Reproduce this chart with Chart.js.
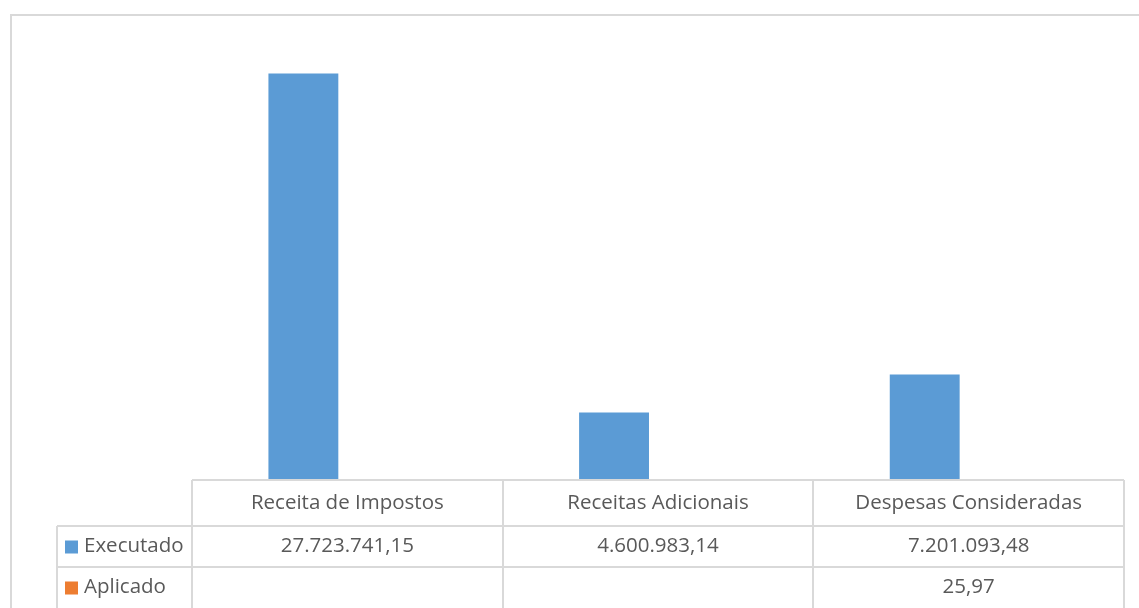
<!DOCTYPE html>
<html lang="pt-BR">
<head>
<meta charset="utf-8">
<title>Executado x Aplicado</title>
<script src="https://cdn.jsdelivr.net/npm/chart.js@4.4.1/dist/chart.umd.min.js"></script>
<style>
    html, body { margin: 0; padding: 0; background: #fff; }
    #wrap { width: 1139px; height: 608px; position: relative; }
</style>
</head>
<body>
<div id="wrap"><canvas id="grafico"></canvas></div>
<script>
// Dados do gráfico
const categorias = ['Receita de Impostos', 'Receitas Adicionais', 'Despesas Consideradas'];
const executado = [27723741.15, 4600983.14, 7201093.48];
const aplicado = [null, null, 25.97];
const eixoMax = 30000000;

const COR_EXEC = '#5B9BD5';
const COR_APLIC = '#ED7D31';
const COR_LINHA = '#D9D9D9';
const COR_TEXTO = '#595959';
const FONTE = "20.5px 'Open Sans', sans-serif";

// formata no padrão brasileiro: 27.723.741,15
function formataBR(v) {
    if (v === null || v === undefined) return '';
    const partes = v.toFixed(2).split('.');
    const inteiro = partes[0].replace(/\B(?=(\d{3})+(?!\d))/g, '.');
    return inteiro + ',' + partes[1];
}

// Moldura externa + tabela de dados abaixo do eixo
const tabelaDados = {
    id: 'tabelaDados',
    beforeDraw(chart) {
        const ctx = chart.ctx;
        ctx.save();
        ctx.strokeStyle = COR_LINHA;
        ctx.lineWidth = 2;
        ctx.beginPath();
        ctx.moveTo(11, chart.height);
        ctx.lineTo(11, 15);
        ctx.lineTo(chart.width, 15);
        ctx.stroke();
        ctx.restore();
    },
    afterDraw(chart) {
        const ctx = chart.ctx;
        const area = chart.chartArea;
        const x = chart.scales.x;
        const larg = (area.right - area.left) / categorias.length;
        const yTopo = area.bottom;
        const linhas = [yTopo, yTopo + 46, yTopo + 87, chart.height];
        const xLegenda = 57;

        ctx.save();
        ctx.strokeStyle = COR_LINHA;
        ctx.lineWidth = 2;
        ctx.beginPath();
        // horizontais
        ctx.moveTo(area.left, linhas[0]); ctx.lineTo(area.right, linhas[0]);
        ctx.moveTo(xLegenda, linhas[1]); ctx.lineTo(area.right, linhas[1]);
        ctx.moveTo(xLegenda, linhas[2]); ctx.lineTo(area.right, linhas[2]);
        // verticais
        ctx.moveTo(xLegenda, linhas[1]); ctx.lineTo(xLegenda, linhas[3]);
        for (let i = 0; i <= categorias.length; i++) {
            const xi = Math.round(area.left + i * larg);
            ctx.moveTo(xi, linhas[0]); ctx.lineTo(xi, linhas[3]);
        }
        ctx.stroke();

        ctx.fillStyle = COR_TEXTO;
        ctx.font = FONTE;
        ctx.textAlign = 'center';
        ctx.textBaseline = 'middle';
        const series = [executado, aplicado];
        categorias.forEach((cat, i) => {
            const cx = x.getPixelForValue(i);
            ctx.fillText(cat, cx, (linhas[0] + linhas[1]) / 2);
            series.forEach((s, j) => {
                ctx.fillText(formataBR(s[i]), cx, (linhas[j + 1] + linhas[j + 2]) / 2);
            });
        });

        // chaves da legenda
        ctx.textAlign = 'left';
        chart.data.datasets.forEach((ds, j) => {
            const cy = (linhas[j + 1] + linhas[j + 2]) / 2;
            ctx.fillStyle = ds.backgroundColor;
            ctx.fillRect(65, cy - 6, 13, 13);
            ctx.fillStyle = COR_TEXTO;
            ctx.fillText(ds.label, 84, cy);
        });
        ctx.restore();
    }
};

new Chart(document.getElementById('grafico'), {
    type: 'bar',
    data: {
        labels: categorias,
        datasets: [
            { label: 'Executado', data: executado, backgroundColor: COR_EXEC },
            { label: 'Aplicado', data: aplicado, backgroundColor: COR_APLIC }
        ]
    },
    options: {
        responsive: true,
        maintainAspectRatio: false,
        animation: false,
        categoryPercentage: 0.566,
        barPercentage: 0.795,
        layout: { padding: { left: 192, right: 15, top: 40, bottom: 128 } },
        scales: {
            x: { display: false },
            y: { display: false, min: 0, max: eixoMax }
        },
        plugins: {
            legend: { display: false },
            tooltip: { enabled: false }
        }
    },
    plugins: [tabelaDados]
});
</script>
</body>
</html>
